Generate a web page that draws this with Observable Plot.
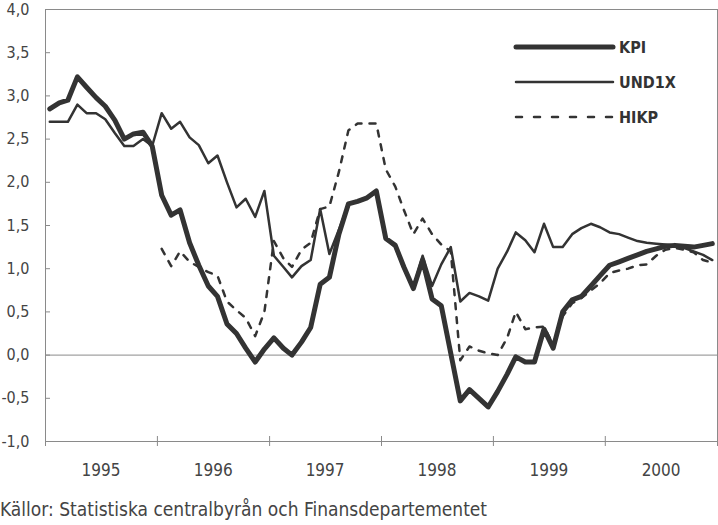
<!DOCTYPE html>
<html>
<head>
<meta charset="utf-8">
<script src="https://cdn.jsdelivr.net/npm/d3@7"></script>
<script src="https://cdn.jsdelivr.net/npm/@observablehq/plot@0.6"></script>
<style>
  html, body { margin: 0; padding: 0; background: #fff; }
  #wrap { position: relative; width: 718px; height: 525px; overflow: hidden;
          font-family: "Liberation Sans Narrow", "DejaVu Sans Condensed", "Liberation Sans", sans-serif; color: #444; }
  #legend { position: absolute; left: 0; top: 0; pointer-events: none; }
  #caption { position: absolute; left: 0; top: 498px; font-size: 19px; color: #444; white-space: nowrap; }
</style>
</head>
<body>
<div id="wrap">
  <div id="chart"></div>
  <svg id="legend" width="718" height="140"></svg>
  <div id="caption">Källor: Statistiska centralbyrån och Finansdepartementet</div>
</div>
<script>
// Monthly values, Jan 1995 – Dec 2000 (per cent, annual change)
const kpi = [
  2.85, 2.92, 2.95, 3.22, 3.10, 2.98, 2.88, 2.72, 2.50, 2.56, 2.58, 2.42,
  1.85, 1.62, 1.68, 1.30, 1.04, 0.80, 0.68, 0.36, 0.25, 0.08, -0.08, 0.07,
  0.20, 0.08, 0.00, 0.15, 0.32, 0.82, 0.90, 1.40, 1.75, 1.78, 1.82, 1.90,
  1.35, 1.27, 1.02, 0.77, 1.10, 0.65, 0.57, 0.02, -0.53, -0.40, -0.50, -0.60,
  -0.42, -0.22, -0.02, -0.08, -0.08, 0.30, 0.08, 0.50, 0.64, 0.68, 0.80, 0.92,
  1.04, 1.08, 1.12, 1.16, 1.20, 1.23, 1.26, 1.27, 1.26, 1.25, 1.27, 1.29
];
const und1x = [
  2.70, 2.70, 2.70, 2.90, 2.80, 2.80, 2.73, 2.57, 2.42, 2.42, 2.50, 2.42,
  2.80, 2.62, 2.70, 2.52, 2.43, 2.22, 2.31, 2.00, 1.71, 1.81, 1.60, 1.90,
  1.15, 1.02, 0.90, 1.03, 1.10, 1.69, 1.17, 1.45, 1.75, 1.78, 1.82, 1.88,
  1.35, 1.25, 1.00, 0.78, 1.15, 0.80, 1.05, 1.25, 0.62, 0.72, 0.68, 0.63,
  1.00, 1.20, 1.42, 1.33, 1.19, 1.52, 1.25, 1.25, 1.40, 1.47, 1.52, 1.48,
  1.42, 1.40, 1.36, 1.32, 1.30, 1.29, 1.28, 1.27, 1.24, 1.20, 1.16, 1.10
];
const hikp = [
  null, null, null, null, null, null, null, null, null, null, null, null,
  1.23, 1.03, 1.20, 1.08, 1.02, 0.96, 0.92, 0.62, 0.52, 0.43, 0.22, 0.50,
  1.32, 1.12, 1.02, 1.22, 1.30, 1.69, 1.72, 2.12, 2.60, 2.68, 2.68, 2.68,
  2.15, 1.95, 1.68, 1.40, 1.58, 1.40, 1.28, 1.20, -0.06, 0.10, 0.05, 0.02,
  0.00, 0.20, 0.50, 0.30, 0.32, 0.33, 0.12, 0.45, 0.60, 0.66, 0.75, 0.83,
  0.95, 0.98, 1.00, 1.04, 1.05, 1.15, 1.22, 1.24, 1.22, 1.19, 1.10, 1.07
];
const seriesNames = ["KPI", "UND1X", "HIKP"];
const yearLabels = ["1995", "1996", "1997", "1998", "1999", "2000"];
const yTicks = [-1, -0.5, 0, 0.5, 1, 1.5, 2, 2.5, 3, 3.5, 4];
const caption = "Källor: Statistiska centralbyrån och Finansdepartementet";

const startYear = 1995;
const monthDate = i => new Date(Date.UTC(startYear, i, 15));
const rows = (vals) => vals.map((v, i) => ({date: monthDate(i), value: v}));
const kpiData = rows(kpi);
const undData = rows(und1x);
const hikpData = rows(hikp).filter(d => d.value != null);

const yearStarts = d3.range(yearLabels.length + 1).map(k => new Date(Date.UTC(startYear + k, 0, 1)));
const yearMids = yearLabels.map(y => new Date(Date.UTC(+y, 6, 1)));
const x0 = yearStarts[0];
const fmtY = v => d3.format(".1f")(v).replace(".", ",").replace("−", "-");

const ink = "#333";
const axisGray = "#8a8a8a";

const plot = Plot.plot({
  width: 718,
  height: 488,
  marginTop: 9,
  marginRight: 1,
  marginBottom: 47,
  marginLeft: 45,
  style: {fontFamily: '"Liberation Sans Narrow", "DejaVu Sans Condensed", "Liberation Sans", sans-serif', color: "#444", background: "#fff"},
  x: {type: "utc", domain: [yearStarts[0], yearStarts[yearStarts.length - 1]], label: null},
  y: {domain: [-1, 4], label: null},
  marks: [
    Plot.frame({stroke: axisGray, strokeWidth: 1}),
    Plot.ruleY([0], {stroke: axisGray, strokeWidth: 1}),
    // y ticks pointing inward
    Plot.ruleY(yTicks, {y: d => d, x1: x0, x2: x0, insetRight: -5, stroke: axisGray}),
    // x ticks crossing the axis at year boundaries
    Plot.ruleX(yearStarts, {x: d => d, y1: -1, y2: -1, insetTop: -5, insetBottom: -5, stroke: axisGray}),
    Plot.axisY(yTicks, {tickSize: 0, tickPadding: 16, tickFormat: fmtY, fontSize: 16, fill: "#444", label: null}),
    Plot.axisX(yearMids, {tickSize: 0, tickPadding: 22, tickFormat: d3.utcFormat("%Y"), fontSize: 17, fill: "#444", label: null}),
    Plot.lineY(hikpData, {x: "date", y: "value", stroke: ink, strokeWidth: 2.5, strokeDasharray: "6,8"}),
    Plot.lineY(undData, {x: "date", y: "value", stroke: ink, strokeWidth: 2.5, strokeLinejoin: "round"}),
    Plot.lineY(kpiData, {x: "date", y: "value", stroke: ink, strokeWidth: 5, strokeLinejoin: "round", strokeLinecap: "round"})
  ]
});
document.getElementById("chart").appendChild(plot);
document.getElementById("caption").textContent = caption;

// Legend (inside plot area, top right)
const lg = d3.select("#legend");
const legendStyles = [
  {w: 5, dash: null},
  {w: 2.5, dash: null},
  {w: 2.5, dash: "6,12"}
];
seriesNames.forEach((name, k) => {
  const yy = 47 + k * 35;
  const st = legendStyles[k];
  const ln = lg.append("line").attr("x1", 516).attr("x2", 613).attr("y1", yy).attr("y2", yy)
    .attr("stroke", ink).attr("stroke-width", st.w).attr("stroke-linecap", "round");
  if (st.dash) ln.attr("stroke-dasharray", st.dash);
  lg.append("text").attr("x", 619).attr("y", yy + 6)
    .attr("font-family", '"Liberation Sans Narrow", "DejaVu Sans Condensed", sans-serif')
    .attr("font-weight", "bold").attr("font-size", 16).attr("fill", ink).text(name);
});
</script>
</body>
</html>
